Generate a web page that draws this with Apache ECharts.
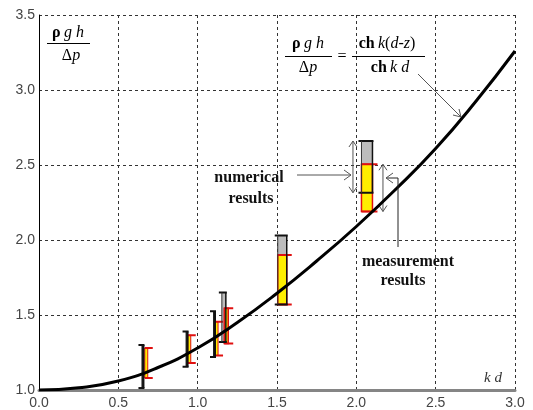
<!DOCTYPE html>
<html><head><meta charset="utf-8">
<script src="https://cdn.jsdelivr.net/npm/echarts@6/dist/echarts.min.js"></script>
<style>html,body{margin:0;padding:0;background:#fff}#c{width:533px;height:410px}</style>
</head><body><div id="c"></div>
<script>
// ---------- data ----------
const xTickLabels = ['0.0','0.5','1.0','1.5','2.0','2.5','3.0'];
const yTickLabels = ['1.0','1.5','2.0','2.5','3.0','3.5'];

// theoretical curve  rho g h / dp  vs  kd
const curveKd  = [0, 0.25, 0.5, 0.75, 1.0, 1.25, 1.5, 1.75, 2.0, 2.25, 2.5, 2.75, 3.0];
const curveVal = [1.0, 1.015, 1.06, 1.15, 1.28, 1.45, 1.645, 1.86, 2.09, 2.34, 2.61, 2.92, 3.26];

// numerical results (range)
const numKd = [0.652, 0.93, 1.103, 1.165, 1.533, 2.067];
const numLo = [1.013, 1.155, 1.22, 1.32, 1.57, 2.315];
const numHi = [1.30, 1.39, 1.525, 1.65, 2.03, 2.66];

// measurement results (range)
const measKd = [0.676, 0.947, 1.119, 1.18, 1.533, 2.067];
const measLo = [1.08, 1.18, 1.23, 1.31, 1.57, 2.19];
const measHi = [1.28, 1.365, 1.455, 1.545, 1.90, 2.505];

// ---------- styles ----------
const NUM_W  = [2, 2, 2, 4, 9, 11];
const MEAS_W = [3, 3, 3, 4, 9, 11];
const SERIF = '"Liberation Serif", "Times New Roman", serif';
const ANNOT = '#555';

const chart = echarts.init(document.getElementById('c'), null, {renderer: 'canvas'});

function line(x1, y1, x2, y2, stroke, lw) {
  return {type: 'line', shape: {x1, y1, x2, y2}, style: {stroke, lineWidth: lw}};
}
function vArrowHeads(x, yTop, yBot, color) {
  return [
    line(x, yTop, x, yBot, color, 1),
    {type: 'polyline', shape: {points: [[x - 4, yTop + 6], [x, yTop], [x + 4, yTop + 6]]}, style: {stroke: color, lineWidth: 1, fill: null}},
    {type: 'polyline', shape: {points: [[x - 4, yBot - 6], [x, yBot], [x + 4, yBot - 6]]}, style: {stroke: color, lineWidth: 1, fill: null}}
  ];
}

const numData  = numKd.map((k, i) => [k, numLo[i], numHi[i]]);
const measData = measKd.map((k, i) => [k, measLo[i], measHi[i]]);
const last = numKd.length - 1;
const arrowData = [
  [numKd[last], numLo[last], numHi[last]],
  [measKd[last], measLo[last], measHi[last]]
];
const ARROW_DX = [-14, 16];

const option = {
  animation: false,
  backgroundColor: '#fff',
  grid: {left: 39, right: 18, top: 15, bottom: 20, containLabel: false},
  xAxis: {
    type: 'value', min: 0, max: 3, interval: 0.5,
    axisLine: {show: true, onZero: false, lineStyle: {color: '#858585', width: 3}},
    axisTick: {show: false},
    axisLabel: {color: '#444', fontSize: 14, fontFamily: '"Liberation Sans", Arial, sans-serif', margin: 6,
      formatter: (v) => xTickLabels[Math.round(v / 0.5)]},
    splitLine: {show: true, lineStyle: {color: '#333', width: 1, type: [3, 3]}}
  },
  yAxis: {
    type: 'value', min: 1, max: 3.5, interval: 0.5,
    axisLine: {show: true, onZero: false, lineStyle: {color: '#000', width: 1}},
    axisTick: {show: false},
    axisLabel: {color: '#444', fontSize: 14, fontFamily: '"Liberation Sans", Arial, sans-serif', margin: 4,
      formatter: (v) => yTickLabels[Math.round((v - 1) / 0.5)]},
    splitLine: {show: true, lineStyle: {color: '#333', width: 1, type: [3, 3]}}
  },
  series: [
    { // numerical fill
      type: 'custom', z: 3, data: numData, encode: {x: 0, y: [1, 2]},
      renderItem: (params, api) => {
        const i = params.dataIndex;
        const t = api.coord([api.value(0), api.value(2)]);
        const b = api.coord([api.value(0), api.value(1)]);
        const w = NUM_W[i];
        return {type: 'rect', shape: {x: t[0] - w / 2, y: t[1], width: w, height: b[1] - t[1]},
          style: {fill: w > 3 ? '#bcbcbc' : '#222', stroke: null}};
      }
    },
    { // measurement
      type: 'custom', z: 4, data: measData, encode: {x: 0, y: [1, 2]},
      renderItem: (params, api) => {
        const i = params.dataIndex;
        const t = api.coord([api.value(0), api.value(2)]);
        const b = api.coord([api.value(0), api.value(1)]);
        const w = MEAS_W[i];
        const x1 = t[0] - w / 2, x2 = t[0] + w / 2;
        return {type: 'group', children: [
          {type: 'rect', shape: {x: x1, y: t[1], width: w, height: b[1] - t[1]},
            style: {fill: '#ffee00', stroke: '#e01010', lineWidth: w > 3 ? 1.5 : 1}},
          line(x1, t[1], x2 + 5, t[1], '#e01010', 2),
          line(x1, b[1], x2 + 5, b[1], '#e01010', 2)
        ]};
      }
    },
    { // numerical brackets
      type: 'custom', z: 5, data: numData, encode: {x: 0, y: [1, 2]},
      renderItem: (params, api) => {
        const i = params.dataIndex;
        const t = api.coord([api.value(0), api.value(2)]);
        const b = api.coord([api.value(0), api.value(1)]);
        const w = NUM_W[i];
        const x1 = t[0] - w / 2, x2 = t[0] + w / 2;
        const ch = [
          line(x1 - 3, t[1], x2 + 1, t[1], '#111', 2),
          line(x1 - 3, b[1], x2 + 1, b[1], '#111', 2),
          line(x2, t[1], x2, b[1], '#111', w > 3 ? 1.5 : 2)
        ];
        if (w > 3) ch.push(line(x1, t[1], x1, b[1], '#333', 1));
        return {type: 'group', children: ch};
      }
    },
    { // range arrows for the annotated group
      type: 'custom', z: 6, data: arrowData, encode: {x: 0, y: [1, 2]},
      renderItem: (params, api) => {
        const i = params.dataIndex;
        const t = api.coord([api.value(0), api.value(2)]);
        const b = api.coord([api.value(0), api.value(1)]);
        const x = t[0] + ARROW_DX[i];
        return {type: 'group', children: vArrowHeads(x, t[1], b[1], ANNOT)};
      }
    },
    {
      type: 'line', z: 8, smooth: 0.5, showSymbol: false, symbol: 'none',
      data: curveKd.map((k, i) => [k, curveVal[i]]),
      lineStyle: {color: '#000', width: 3}
    }
  ],
  graphic: [
    // y-axis label fraction
    {type: 'text', x: 68, y: 33, z: 10, style: {text: '{b|ρ} {i|g h}', align: 'center', verticalAlign: 'middle',
      rich: {b: {font: 'bold 16px ' + SERIF, fill: '#000'}, i: {font: 'italic 16px ' + SERIF, fill: '#000'}}}},
    {type: 'line', z: 10, shape: {x1: 47, y1: 43.5, x2: 90, y2: 43.5}, style: {stroke: '#000', lineWidth: 1}},
    {type: 'text', x: 71, y: 56, z: 10, style: {text: '{n|Δ}{i|p}', align: 'center', verticalAlign: 'middle',
      rich: {n: {font: '16px ' + SERIF, fill: '#000'}, i: {font: 'italic 16px ' + SERIF, fill: '#000'}}}},
    // formula
    {type: 'text', x: 308, y: 44, z: 10, style: {text: '{b|ρ} {i|g h}', align: 'center', verticalAlign: 'middle',
      rich: {b: {font: 'bold 16px ' + SERIF, fill: '#000'}, i: {font: 'italic 16px ' + SERIF, fill: '#000'}}}},
    {type: 'line', z: 10, shape: {x1: 285, y1: 56.5, x2: 332, y2: 56.5}, style: {stroke: '#000', lineWidth: 1}},
    {type: 'text', x: 308, y: 68, z: 10, style: {text: '{n|Δ}{i|p}', align: 'center', verticalAlign: 'middle',
      rich: {n: {font: '16px ' + SERIF, fill: '#000'}, i: {font: 'italic 16px ' + SERIF, fill: '#000'}}}},
    {type: 'text', x: 342, y: 57, z: 10, style: {text: '=', align: 'center', verticalAlign: 'middle', font: '16px ' + SERIF, fill: '#000'}},
    {type: 'text', x: 387, y: 44, z: 10, style: {text: '{b|ch} {i|k}{n|(}{i|d}{n|-}{i|z}{n|)}', align: 'center', verticalAlign: 'middle',
      rich: {b: {font: 'bold 16px ' + SERIF, fill: '#000'}, i: {font: 'italic 16px ' + SERIF, fill: '#000'}, n: {font: '16px ' + SERIF, fill: '#000'}}}},
    {type: 'line', z: 10, shape: {x1: 352, y1: 56.5, x2: 425, y2: 56.5}, style: {stroke: '#000', lineWidth: 1}},
    {type: 'text', x: 390, y: 68, z: 10, style: {text: '{b|ch} {i|k d}', align: 'center', verticalAlign: 'middle',
      rich: {b: {font: 'bold 16px ' + SERIF, fill: '#000'}, i: {font: 'italic 16px ' + SERIF, fill: '#000'}}}},
    // formula pointer arrow
    {type: 'line', z: 10, shape: {x1: 418, y1: 74, x2: 461, y2: 117}, style: {stroke: ANNOT, lineWidth: 1}},
    {type: 'polyline', z: 10, shape: {points: [[453, 115], [461, 117], [459, 109]]}, style: {stroke: ANNOT, lineWidth: 1, fill: null}},
    // numerical results label
    {type: 'text', x: 249, y: 178, z: 10, style: {text: 'numerical', align: 'center', verticalAlign: 'middle', font: 'bold 16px ' + SERIF, fill: '#111'}},
    {type: 'text', x: 251, y: 199, z: 10, style: {text: 'results', align: 'center', verticalAlign: 'middle', font: 'bold 16px ' + SERIF, fill: '#111'}},
    {type: 'line', z: 10, shape: {x1: 297, y1: 175, x2: 351, y2: 175}, style: {stroke: ANNOT, lineWidth: 1}},
    {type: 'polyline', z: 10, shape: {points: [[344, 170], [351, 175], [344, 180]]}, style: {stroke: ANNOT, lineWidth: 1, fill: null}},
    // measurement results label
    {type: 'text', x: 408, y: 262, z: 10, style: {text: 'measurement', align: 'center', verticalAlign: 'middle', font: 'bold 16px ' + SERIF, fill: '#111'}},
    {type: 'text', x: 403, y: 281, z: 10, style: {text: 'results', align: 'center', verticalAlign: 'middle', font: 'bold 16px ' + SERIF, fill: '#111'}},
    {type: 'polyline', z: 10, shape: {points: [[398, 247], [398, 178], [386, 178]]}, style: {stroke: '#222', lineWidth: 1, fill: null}},
    {type: 'polyline', z: 10, shape: {points: [[393, 173], [386, 178], [393, 183]]}, style: {stroke: ANNOT, lineWidth: 1, fill: null}},
    // x-axis name
    {type: 'text', x: 493, y: 378, z: 10, style: {text: 'k d', align: 'center', verticalAlign: 'middle', font: 'italic 15px ' + SERIF, fill: '#333'}}
  ]
};
chart.setOption(option);
</script>
</body></html>
